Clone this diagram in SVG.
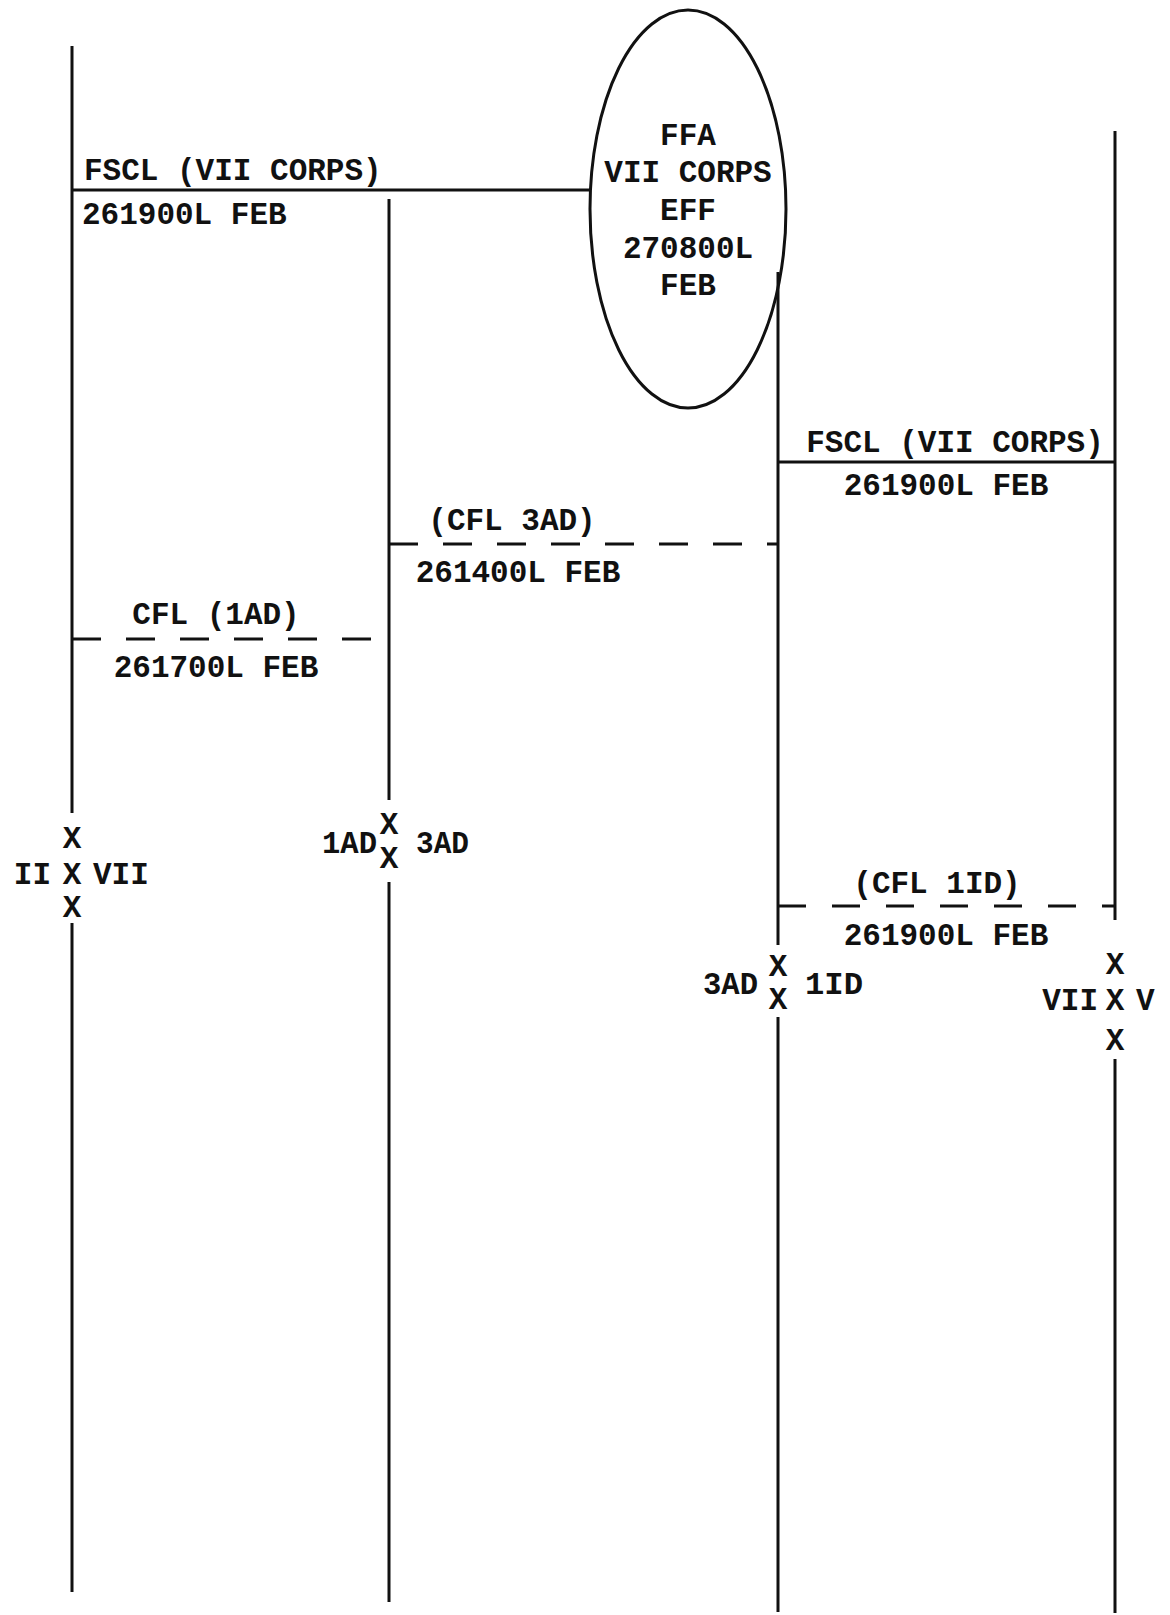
<svg xmlns="http://www.w3.org/2000/svg" width="1170" height="1615" viewBox="0 0 1170 1615">
<style>
  .ln{stroke:#111;stroke-width:3;fill:none;stroke-linecap:butt}
  .dash{stroke:#111;stroke-width:3;fill:none}
  .t{font-family:"Liberation Mono","Courier New",monospace;font-weight:bold;font-size:31px;fill:#111}
  .m{text-anchor:middle}
  .e{text-anchor:end}
</style>
<rect width="1170" height="1615" fill="#fff"/>
<g id="boundaries">
  <g id="boundary-II-VII">
    <line class="ln" x1="72" y1="46" x2="72" y2="813"/>
    <line class="ln" x1="72" y1="923" x2="72" y2="1592"/>
    <text class="t m" x="72" y="848">X</text>
    <text class="t e" x="51" y="884">II</text>
    <text class="t m" x="72" y="884">X</text>
    <text class="t" x="93" y="884">VII</text>
    <text class="t m" x="72" y="917">X</text>
  </g>
  <g id="boundary-1AD-3AD">
    <line class="ln" x1="389" y1="199" x2="389" y2="800"/>
    <line class="ln" x1="389" y1="882" x2="389" y2="1602"/>
    <text class="t m" x="389" y="834">X</text>
    <text class="t m" x="389" y="868">X</text>
    <text class="t e" x="377" y="853" textLength="55" lengthAdjust="spacingAndGlyphs">1AD</text>
    <text class="t" x="416" y="853" textLength="53" lengthAdjust="spacingAndGlyphs">3AD</text>
  </g>
  <g id="boundary-3AD-1ID">
    <line class="ln" x1="778" y1="272" x2="778" y2="945"/>
    <line class="ln" x1="778" y1="1017" x2="778" y2="1612"/>
    <text class="t m" x="778" y="976">X</text>
    <text class="t m" x="778" y="1009">X</text>
    <text class="t e" x="758" y="994" textLength="55" lengthAdjust="spacingAndGlyphs">3AD</text>
    <text class="t" x="805" y="994" textLength="58" lengthAdjust="spacingAndGlyphs">1ID</text>
  </g>
  <g id="boundary-VII-V">
    <line class="ln" x1="1115" y1="131" x2="1115" y2="920"/>
    <line class="ln" x1="1115" y1="1059" x2="1115" y2="1613"/>
    <text class="t m" x="1115" y="974">X</text>
    <text class="t e" x="1098" y="1010">VII</text>
    <text class="t m" x="1115" y="1010">X</text>
    <text class="t" x="1136" y="1010">V</text>
    <text class="t m" x="1115" y="1050">X</text>
  </g>
</g>
<g id="ffa">
  <ellipse cx="688" cy="209" rx="98" ry="199" fill="none" stroke="#111" stroke-width="3"/>
  <text class="t m" x="688" y="145">FFA</text>
  <text class="t m" x="688" y="182">VII CORPS</text>
  <text class="t m" x="688" y="220">EFF</text>
  <text class="t m" x="688" y="258">270800L</text>
  <text class="t m" x="688" y="295">FEB</text>
</g>
<g id="connectors">
  <g id="fscl-left">
    <line class="ln" x1="72" y1="190" x2="591" y2="190"/>
    <text class="t" x="84" y="180">FSCL (VII CORPS)</text>
    <text class="t" x="82" y="224">261900L FEB</text>
  </g>
  <g id="fscl-right">
    <line class="ln" x1="778" y1="462" x2="1115" y2="462"/>
    <text class="t m" x="955" y="452">FSCL (VII CORPS)</text>
    <text class="t m" x="946" y="495">261900L FEB</text>
  </g>
  <g id="cfl-3ad">
    <line class="dash" x1="389" y1="544" x2="778" y2="544" stroke-dasharray="29 25"/>
    <text class="t m" x="512" y="530">(CFL 3AD)</text>
    <text class="t m" x="518" y="582">261400L FEB</text>
  </g>
  <g id="cfl-1ad">
    <line class="dash" x1="72" y1="639" x2="372" y2="639" stroke-dasharray="29 25"/>
    <text class="t m" x="216" y="624">CFL (1AD)</text>
    <text class="t m" x="216" y="677">261700L FEB</text>
  </g>
  <g id="cfl-1id">
    <line class="dash" x1="778" y1="906" x2="1115" y2="906" stroke-dasharray="28 26"/>
    <text class="t m" x="937" y="893">(CFL 1ID)</text>
    <text class="t m" x="946" y="945">261900L FEB</text>
  </g>
</g>
</svg>
